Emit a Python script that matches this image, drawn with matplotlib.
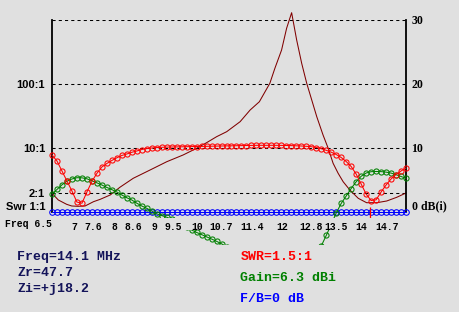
import numpy as np
import matplotlib.pyplot as plt
from matplotlib.patches import Rectangle

# sweep grid (MHz) and the three marker series
freq = np.linspace(6.5, 14.95, 72)
swr = [7.77, 6.26, 4.37, 3.05, 2.13, 1.43, 1.37, 2.05, 3.00, 4.02,
       5.05, 5.73, 6.38, 7.03, 7.64, 8.06, 8.57, 8.98, 9.47, 9.79,
       10.0, 10.15, 10.25, 10.33, 10.36, 10.40, 10.44, 10.48, 10.52, 10.55,
       10.59, 10.63, 10.67, 10.71, 10.75, 10.79, 10.82, 10.86, 10.90, 10.94,
       10.98, 11.02, 11.02, 11.02, 11.02, 11.02, 10.98, 10.94, 10.90, 10.82,
       10.75, 10.63, 10.48, 10.18, 9.75, 9.21, 8.60, 7.91, 7.11, 6.15,
       5.14, 3.92, 2.74, 1.91, 1.51, 1.55, 2.05, 2.64, 3.28, 3.85,
       4.37, 4.87]
gain = [2.81, 3.52, 4.25, 4.81, 5.16, 5.36, 5.34, 5.19, 4.88, 4.56,
        4.22, 3.84, 3.50, 3.13, 2.66, 2.23, 1.88, 1.38, 0.94, 0.58,
        0.16, -0.28, -0.56, -0.81, -1.14, -1.50, -1.91, -2.34, -2.81, -3.19,
        -3.53, -3.88, -4.22, -4.58, -4.97, -5.4, -5.8, -6.2, -6.6, -7.0,
        -7.5, -8.0, -8.5, -9.0, -9.6, -10.2, -10.9, -11.7, -12.4, -12.8,
        -12.5, -11.6, -10.2, -8.3, -5.31, -3.67, -1.95, -0.16, 1.33, 2.5,
        3.67, 4.72, 5.58, 6.09, 6.3, 6.33, 6.31, 6.23, 6.08, 5.83,
        5.55, 5.27]
fb = [0.0] * 72

# thin dark red trace (no markers)
trace_f = [6.5, 6.65, 6.85, 6.97, 7.12, 7.29, 7.49, 7.65, 7.89, 8.12,
           8.44, 8.84, 9.24, 9.63, 9.95, 10.19, 10.43, 10.67, 10.99, 11.23,
           11.45, 11.70, 11.82, 11.98, 12.10, 12.22, 12.34, 12.46, 12.58, 12.70,
           12.82, 12.97, 13.09, 13.21, 13.33, 13.45, 13.61, 13.81, 14.01, 14.25,
           14.49, 14.73, 14.95]
trace_v = [2.92, 1.88, 1.20, 0.94, 0.89, 0.94, 1.61, 1.98, 2.66, 3.86,
           5.27, 6.56, 7.86, 8.91, 9.95, 10.83, 11.77, 12.55, 14.11, 15.94,
           17.23, 20.11, 22.45, 25.31, 28.70, 31.14, 26.88, 23.23, 20.11, 17.5,
           14.89, 12.03, 10.0, 7.61, 6.05, 4.73, 3.44, 2.14, 1.45, 1.45,
           1.72, 2.30, 2.97]

cursor_f = 14.1
xtick_at = [7.025, 7.49, 7.99, 8.445, 8.934, 9.40, 9.96, 10.53, 11.27,
            11.99, 12.68, 13.28, 13.89, 14.495]
xtick_lab = ['7', '7.6', '8', '8.6', '9', '9.5', '10', '10.7', '11.4',
             '12', '12.8', '13.5', '14', '14.7']
swr_ticks = [2, 10, 100]
swr_labels = ['2:1', '10:1', '100:1']
db_ticks = [10, 20, 30]

bg = '#e0e0e0'
W, H = 460, 312
fig = plt.figure(figsize=(W / 100, H / 100), dpi=100, facecolor=bg)
ax = fig.add_axes([52 / W, 1 - 212 / H, 354 / W, 192 / H])
ax.set_facecolor(bg)
ax.set_xlim(6.5, 14.95)
ax.set_ylim(0, 30)

swr_db = 10 * np.log10(swr)

# dashed grid
for v in [30, 20, 10, 10 * np.log10(2)]:
    ax.axhline(v, color='black', lw=0.75, ls=(0, (3, 3)), zorder=1)

ax.plot(trace_f, trace_v, color='#800000', lw=0.75, zorder=2, clip_on=False)
ax.plot(freq, fb, color='#0000ff', lw=0.75, marker='o', ms=4.0, mfc='none',
        mew=0.75, zorder=3, clip_on=False)
ax.plot(freq, gain, color='#008000', lw=0.75, marker='o', ms=3.7, mfc='none',
        mew=0.75, zorder=3, clip_on=False)
ax.plot(freq, swr_db, color='#ff0000', lw=0.75, marker='o', ms=3.7, mfc='none',
        mew=0.75, zorder=4, clip_on=False)
ax.vlines(cursor_f, -0.95, 0.8, color='#ff0000', lw=0.9, zorder=5, clip_on=False)

# background bands that hide what runs below the plot
for y0, y1 in [(217.5, 229.5), (245, 312)]:
    ax.add_patch(Rectangle((0, 1 - y1 / H), 1, (y1 - y0) / H,
                           transform=fig.transFigure, facecolor=bg,
                           edgecolor='none', zorder=8, clip_on=False))

for s in ['top', 'bottom']:
    ax.spines[s].set_visible(False)
for s in ['left', 'right']:
    ax.spines[s].set_linewidth(1.3)
    ax.spines[s].set_bounds(0, 30)

mono = 'Liberation Mono'
ax.set_xticks(xtick_at)
ax.set_xticklabels(xtick_lab, family=mono, weight='bold', fontsize=7)
ax.tick_params(axis='x', length=0, pad=7)
ax.xaxis.set_zorder(10)
ax.text(6.5, -1.9, 'Freq 6.5', transform=ax.transData, ha='right', va='center',
        family=mono, weight='bold', fontsize=7, zorder=10)
ax.text(6.5, 0, 'Swr 1:1  ', ha='right', va='bottom', family='Liberation Sans',
        weight='bold', fontsize=8)

ax.set_yticks(10 * np.log10(swr_ticks))
ax.set_yticklabels(swr_labels, family='Liberation Sans', weight='bold', fontsize=8)
ax.tick_params(axis='y', length=0, pad=5)

ax2 = ax.twinx()
ax2.set_ylim(0, 30)
ax2.set_yticks(db_ticks)
ax2.set_yticklabels([str(t) for t in db_ticks], family='Liberation Serif',
                    weight='bold', fontsize=8.5)
ax2.tick_params(axis='y', length=0, pad=4)
for s in ax2.spines.values():
    s.set_visible(False)
ax2.text(1.0, 0, '  0 dB(i)', transform=ax2.get_yaxis_transform(), ha='left',
         va='bottom', family='Liberation Serif', weight='bold', fontsize=8.5)

navy = '#14145a'
info_left = ['Freq=14.1 MHz', 'Zr=47.7', 'Zi=+j18.2']
for txt, y in zip(info_left, [256.7, 273, 289]):
    fig.text(17 / W, 1 - y / H, txt, color=navy, family=mono, weight='bold',
             fontsize=9.5, va='center')
info_right = ['SWR=1.5:1', 'Gain=6.3 dBi', 'F/B=0 dB']
for txt, y, c in zip(info_right, [257, 277.7, 299.3], ['#ff0000', '#008000', '#0000ff']):
    fig.text(240.5 / W, 1 - y / H, txt, color=c, family=mono, weight='bold',
             fontsize=9.5, va='center')

fig.savefig('out.png', dpi=100, facecolor=bg)
